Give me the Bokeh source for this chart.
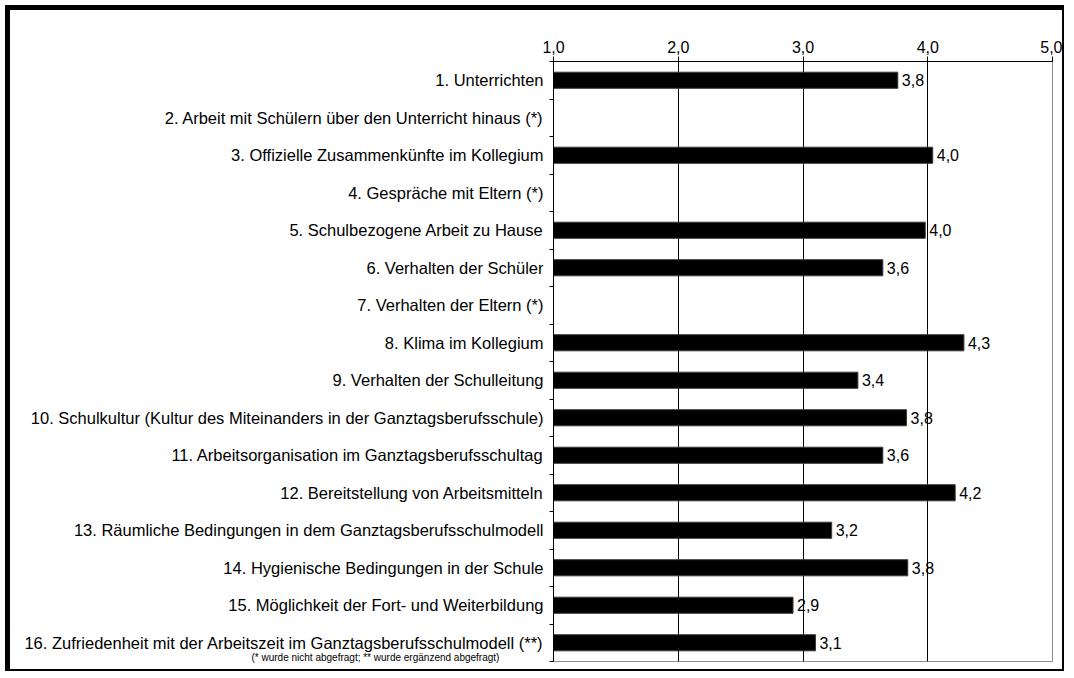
from bokeh.plotting import figure
from bokeh.models import Range1d, FixedTicker, ColumnDataSource, Title
from bokeh.embed import file_html
from bokeh.resources import INLINE
from bokeh.core.properties import value

FONT = "Liberation Sans"

categories = [
    "1. Unterrichten",
    "2. Arbeit mit Schülern über den Unterricht hinaus (*)",
    "3. Offizielle Zusammenkünfte im Kollegium",
    "4. Gespräche mit Eltern (*)",
    "5. Schulbezogene Arbeit zu Hause",
    "6. Verhalten der Schüler",
    "7. Verhalten der Eltern (*)",
    "8. Klima im Kollegium",
    "9. Verhalten der Schulleitung",
    "10. Schulkultur (Kultur des Miteinanders in der Ganztagsberufsschule)",
    "11. Arbeitsorganisation im Ganztagsberufsschultag",
    "12. Bereitstellung von Arbeitsmitteln",
    "13. Räumliche Bedingungen in dem Ganztagsberufsschulmodell",
    "14. Hygienische Bedingungen in der Schule",
    "15. Möglichkeit der Fort- und Weiterbildung",
    "16. Zufriedenheit mit der Arbeitszeit im Ganztagsberufsschulmodell (**)",
]
values = [3.76, None, 4.04, None, 3.98, 3.64, None, 4.29, 3.44, 3.83,
          3.64, 4.22, 3.23, 3.84, 2.92, 3.10]
x_ticks = [1, 2, 3, 4, 5]
x_tick_labels = ["1,0", "2,0", "3,0", "4,0", "5,0"]
footnote = "(* wurde nicht abgefragt; ** wurde ergänzend abgefragt)"

W, H = 1059, 666
p = figure(width=W, height=H, output_backend="svg", toolbar_location=None,
           x_range=Range1d(1, 5), y_range=Range1d(len(categories), 0),
           x_axis_location="above",
           min_border_left=543, min_border_right=17,
           min_border_top=51, min_border_bottom=15)
p.styles = {"margin": "5px 0px 0px 5px", "border-style": "solid",
            "border-color": "black", "border-width": "5px 2px 2px 5px"}
p.background_fill_color = "white"
p.border_fill_color = "white"
p.outline_line_color = "#8c8c8c"
p.outline_line_width = 1

# bars
ys, rights, labels = [], [], []
for i, v in enumerate(values):
    if v is None:
        continue
    ys.append(i + 0.5)
    rights.append(v)
    labels.append(f"{v:.1f}".replace(".", ","))
src = ColumnDataSource(dict(y=ys, right=rights, lab=labels))
p.hbar(y="y", left=1, right="right", height=0.43, source=src,
       fill_color="black", line_color="#3a3a3a", line_width=1)
p.text(x="right", y="y", text="lab", source=src, x_offset=4,
       text_align="left", text_baseline="middle",
       text_font=value(FONT), text_font_size="16px", text_color="black")

# top axis
xa = p.xaxis[0]
xa.ticker = FixedTicker(ticks=x_ticks)
xa.major_label_overrides = {t: s for t, s in zip(x_ticks, x_tick_labels)}
xa.major_label_text_font = FONT
xa.major_label_text_font_size = "16px"
xa.major_label_text_color = "black"
xa.major_tick_out = 5
xa.major_tick_in = 0
xa.minor_tick_line_color = None
xa.axis_line_color = "black"
xa.major_tick_line_color = "black"
xa.major_label_standoff = 4

# left axis with category labels
ya = p.yaxis[0]
ya.ticker = FixedTicker(ticks=[i + 0.5 for i in range(len(categories))],
                        minor_ticks=list(range(len(categories) + 1)))
ya.major_label_overrides = {i + 0.5: c for i, c in enumerate(categories)}
ya.major_label_text_font = FONT
ya.major_label_text_font_size = "16.5px"
ya.major_label_text_color = "black"
ya.major_tick_line_color = None
ya.major_tick_out = 0
ya.major_tick_in = 0
ya.minor_tick_out = 4
ya.minor_tick_in = 0
ya.minor_tick_line_color = "black"
ya.axis_line_color = "black"
ya.major_label_standoff = 6

# grid
p.xgrid.ticker = FixedTicker(ticks=[2, 3, 4])
p.xgrid.grid_line_color = "black"
p.xgrid.grid_line_width = 1
p.ygrid.grid_line_color = None

# footnote as a title in the panel below the frame, shifted left/up
p.add_layout(Title(text=footnote, align="left", offset=-302, standoff=-19,
                   vertical_align="top", text_font=FONT,
                   text_font_size="10px", text_font_style="normal",
                   text_color="black"), "below")

open("out.html", "w").write(file_html(p, INLINE))
